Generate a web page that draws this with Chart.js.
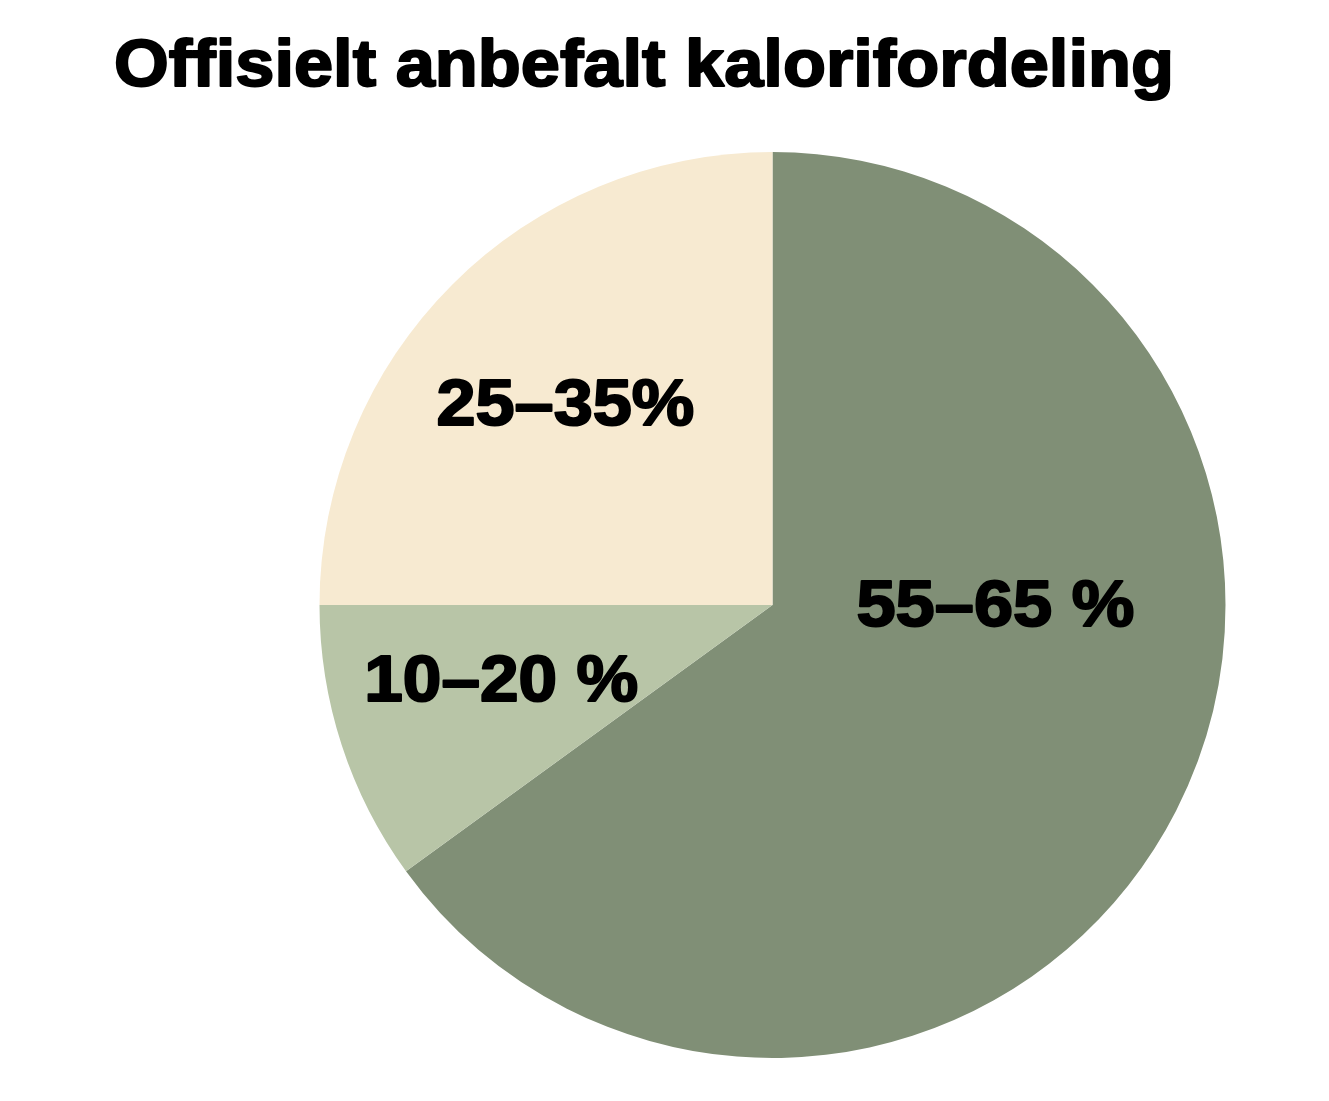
<!DOCTYPE html>
<html>
<head>
<meta charset="utf-8">
<script src="https://cdn.jsdelivr.net/npm/chart.js@4"></script>
<style>
    html, body { margin: 0; padding: 0; background: #ffffff; }
    #wrap { width: 1329px; height: 1101px; position: relative; }
</style>
</head>
<body>
<div id="wrap"><canvas id="kaloriChart"></canvas></div>
<script>
// Data
const tittel = 'Offisielt anbefalt kalorifordeling';
const kategorier = ['Karbohydrat', 'Protein', 'Fett'];
const andeler = [65, 10, 25];
const etiketter = ['55–65 %', '10–20 %', '25–35%'];
const farger = ['#808f76', '#b8c5a7', '#f7ead1'];

// Plugin: tittel øverst
const tittelPlugin = {
    id: 'tittelPlugin',
    afterDraw(chart, args, opts) {
        const ctx = chart.ctx;
        ctx.save();
        ctx.font = 'bold ' + opts.size + 'px "Liberation Sans", Arial, sans-serif';
        ctx.fillStyle = '#000';
        ctx.strokeStyle = '#000';
        ctx.lineWidth = opts.stroke;
        ctx.lineJoin = 'round';
        ctx.textBaseline = 'alphabetic';
        ctx.textAlign = 'center';
        const w = ctx.measureText(opts.text).width;
        const sx = opts.width / (w + opts.stroke);
        ctx.translate(opts.x, opts.y);
        ctx.scale(sx, 1);
        ctx.fillText(opts.text, 0, 0);
        ctx.strokeText(opts.text, 0, 0);
        ctx.restore();
    }
};

// Plugin: etiketter inne i sektorene
const etikettPlugin = {
    id: 'etikettPlugin',
    afterDatasetsDraw(chart, args, opts) {
        const ctx = chart.ctx;
        const meta = chart.getDatasetMeta(0);
        ctx.save();
        ctx.font = 'bold ' + opts.size + 'px "Liberation Sans", Arial, sans-serif';
        ctx.fillStyle = '#000';
        ctx.strokeStyle = '#000';
        ctx.lineWidth = opts.stroke;
        ctx.lineJoin = 'round';
        ctx.textAlign = 'center';
        ctx.textBaseline = 'alphabetic';
        meta.data.forEach((arc, i) => {
            const p = arc.getProps(['x', 'y', 'outerRadius'], true);
            const a = opts.vinkler[i] * Math.PI / 180;
            const d = opts.avstand[i] * p.outerRadius;
            const cx = p.x + d * Math.sin(a);
            const cy = p.y - d * Math.cos(a);
            const txt = etiketter[i];
            const w = ctx.measureText(txt).width;
            const sx = opts.bredder[i] / (w + opts.stroke);
            ctx.save();
            ctx.translate(cx, cy + opts.size * 0.36);
            ctx.scale(sx, 1);
            ctx.fillText(txt, 0, 0);
            ctx.strokeText(txt, 0, 0);
            ctx.restore();
        });
        ctx.restore();
    }
};

const ctx = document.getElementById('kaloriChart').getContext('2d');
new Chart(ctx, {
    type: 'pie',
    data: {
        labels: kategorier,
        datasets: [{
            data: andeler,
            backgroundColor: farger,
            borderWidth: 0,
            hoverOffset: 0
        }]
    },
    options: {
        responsive: true,
        maintainAspectRatio: false,
        animation: false,
        layout: {
            padding: { left: 319, right: 103, top: 152, bottom: 43 }
        },
        plugins: {
            legend: { display: false },
            tooltip: { enabled: false },
            title: { display: false },
            tittelPlugin: { text: tittel, x: 644, y: 86, size: 66, stroke: 2, width: 1062 },
            etikettPlugin: {
                size: 64,
                stroke: 2,
                vinkler: [89.5, 255, 314.4],
                avstand: [0.492, 0.62, 0.64],
                bredder: [280, 276, 260]
            }
        }
    },
    plugins: [tittelPlugin, etikettPlugin]
});
</script>
</body>
</html>
